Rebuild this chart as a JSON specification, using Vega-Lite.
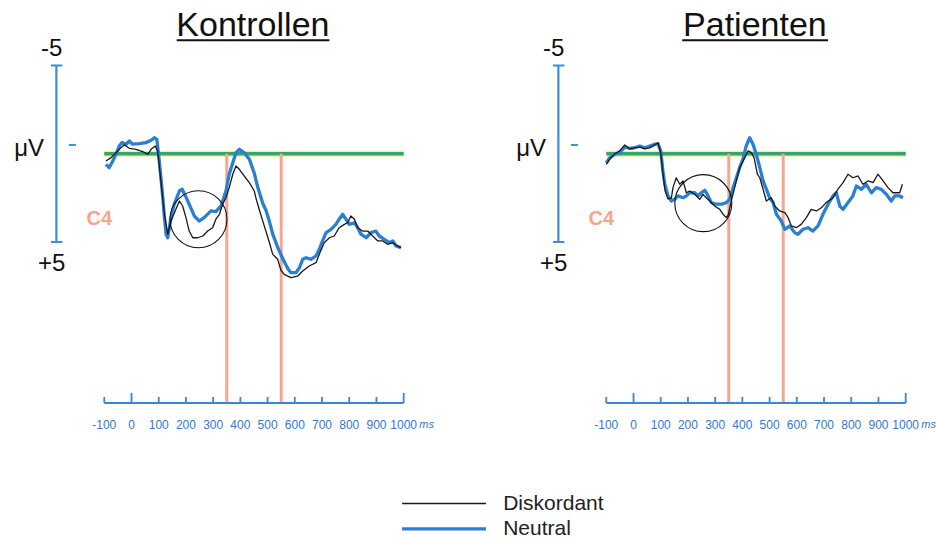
{
  "$schema": "https://vega.github.io/schema/vega-lite/v6.json",
  "padding": 0,
  "background": "white",
  "config": {"view": {"stroke": "transparent"}, "font": "Liberation Sans"},
  "data": {"values": [
    {"p":"Kontrollen","k":"erp","s":"Neutral","t":-94,"uv":0.60},{"p":"Kontrollen","k":"erp","s":"Neutral","t":-82,"uv":0.79},{"p":"Kontrollen","k":"erp","s":"Neutral","t":-69,"uv":0.41},{"p":"Kontrollen","k":"erp","s":"Neutral","t":-57,"uv":0.03},{"p":"Kontrollen","k":"erp","s":"Neutral","t":-45,"uv":-0.44},{"p":"Kontrollen","k":"erp","s":"Neutral","t":-35,"uv":-0.63},{"p":"Kontrollen","k":"erp","s":"Neutral","t":-20,"uv":-0.54},{"p":"Kontrollen","k":"erp","s":"Neutral","t":-8,"uv":-0.72},{"p":"Kontrollen","k":"erp","s":"Neutral","t":4,"uv":-0.54},{"p":"Kontrollen","k":"erp","s":"Neutral","t":29,"uv":-0.57},{"p":"Kontrollen","k":"erp","s":"Neutral","t":53,"uv":-0.63},{"p":"Kontrollen","k":"erp","s":"Neutral","t":72,"uv":-0.76},{"p":"Kontrollen","k":"erp","s":"Neutral","t":84,"uv":-0.91},{"p":"Kontrollen","k":"erp","s":"Neutral","t":93,"uv":-0.82},{"p":"Kontrollen","k":"erp","s":"Neutral","t":102,"uv":0.41},{"p":"Kontrollen","k":"erp","s":"Neutral","t":108,"uv":1.36},{"p":"Kontrollen","k":"erp","s":"Neutral","t":115,"uv":2.49},{"p":"Kontrollen","k":"erp","s":"Neutral","t":121,"uv":3.62},{"p":"Kontrollen","k":"erp","s":"Neutral","t":127,"uv":4.56},{"p":"Kontrollen","k":"erp","s":"Neutral","t":133,"uv":4.76},{"p":"Kontrollen","k":"erp","s":"Neutral","t":145,"uv":3.62},{"p":"Kontrollen","k":"erp","s":"Neutral","t":157,"uv":2.86},{"p":"Kontrollen","k":"erp","s":"Neutral","t":176,"uv":2.11},{"p":"Kontrollen","k":"erp","s":"Neutral","t":186,"uv":2.01},{"p":"Kontrollen","k":"erp","s":"Neutral","t":198,"uv":2.39},{"p":"Kontrollen","k":"erp","s":"Neutral","t":212,"uv":2.86},{"p":"Kontrollen","k":"erp","s":"Neutral","t":231,"uv":3.53},{"p":"Kontrollen","k":"erp","s":"Neutral","t":249,"uv":3.81},{"p":"Kontrollen","k":"erp","s":"Neutral","t":267,"uv":3.62},{"p":"Kontrollen","k":"erp","s":"Neutral","t":292,"uv":3.24},{"p":"Kontrollen","k":"erp","s":"Neutral","t":310,"uv":3.28},{"p":"Kontrollen","k":"erp","s":"Neutral","t":329,"uv":2.96},{"p":"Kontrollen","k":"erp","s":"Neutral","t":347,"uv":2.11},{"p":"Kontrollen","k":"erp","s":"Neutral","t":359,"uv":1.16},{"p":"Kontrollen","k":"erp","s":"Neutral","t":372,"uv":0.51},{"p":"Kontrollen","k":"erp","s":"Neutral","t":384,"uv":-0.06},{"p":"Kontrollen","k":"erp","s":"Neutral","t":396,"uv":-0.25},{"p":"Kontrollen","k":"erp","s":"Neutral","t":414,"uv":-0.06},{"p":"Kontrollen","k":"erp","s":"Neutral","t":433,"uv":0.31},{"p":"Kontrollen","k":"erp","s":"Neutral","t":451,"uv":1.1},{"p":"Kontrollen","k":"erp","s":"Neutral","t":464,"uv":1.9},{"p":"Kontrollen","k":"erp","s":"Neutral","t":482,"uv":2.8},{"p":"Kontrollen","k":"erp","s":"Neutral","t":494,"uv":3.2},{"p":"Kontrollen","k":"erp","s":"Neutral","t":506,"uv":3.8},{"p":"Kontrollen","k":"erp","s":"Neutral","t":519,"uv":4.55},{"p":"Kontrollen","k":"erp","s":"Neutral","t":537,"uv":5.3},{"p":"Kontrollen","k":"erp","s":"Neutral","t":556,"uv":5.95},{"p":"Kontrollen","k":"erp","s":"Neutral","t":574,"uv":6.5},{"p":"Kontrollen","k":"erp","s":"Neutral","t":586,"uv":6.74},{"p":"Kontrollen","k":"erp","s":"Neutral","t":604,"uv":6.74},{"p":"Kontrollen","k":"erp","s":"Neutral","t":617,"uv":6.46},{"p":"Kontrollen","k":"erp","s":"Neutral","t":629,"uv":5.98},{"p":"Kontrollen","k":"erp","s":"Neutral","t":641,"uv":5.89},{"p":"Kontrollen","k":"erp","s":"Neutral","t":659,"uv":5.98},{"p":"Kontrollen","k":"erp","s":"Neutral","t":678,"uv":5.79},{"p":"Kontrollen","k":"erp","s":"Neutral","t":690,"uv":5.41},{"p":"Kontrollen","k":"erp","s":"Neutral","t":702,"uv":4.94},{"p":"Kontrollen","k":"erp","s":"Neutral","t":715,"uv":4.47},{"p":"Kontrollen","k":"erp","s":"Neutral","t":733,"uv":4.28},{"p":"Kontrollen","k":"erp","s":"Neutral","t":751,"uv":4.00},{"p":"Kontrollen","k":"erp","s":"Neutral","t":763,"uv":3.71},{"p":"Kontrollen","k":"erp","s":"Neutral","t":776,"uv":3.43},{"p":"Kontrollen","k":"erp","s":"Neutral","t":788,"uv":3.71},{"p":"Kontrollen","k":"erp","s":"Neutral","t":800,"uv":4.00},{"p":"Kontrollen","k":"erp","s":"Neutral","t":819,"uv":3.91},{"p":"Kontrollen","k":"erp","s":"Neutral","t":831,"uv":4.19},{"p":"Kontrollen","k":"erp","s":"Neutral","t":843,"uv":4.56},{"p":"Kontrollen","k":"erp","s":"Neutral","t":862,"uv":4.76},{"p":"Kontrollen","k":"erp","s":"Neutral","t":880,"uv":4.47},{"p":"Kontrollen","k":"erp","s":"Neutral","t":898,"uv":4.38},{"p":"Kontrollen","k":"erp","s":"Neutral","t":910,"uv":4.66},{"p":"Kontrollen","k":"erp","s":"Neutral","t":929,"uv":4.85},{"p":"Kontrollen","k":"erp","s":"Neutral","t":947,"uv":5.04},{"p":"Kontrollen","k":"erp","s":"Neutral","t":960,"uv":4.94},{"p":"Kontrollen","k":"erp","s":"Neutral","t":972,"uv":5.23},{"p":"Kontrollen","k":"erp","s":"Neutral","t":990,"uv":5.32},

    {"p":"Kontrollen","k":"erp","s":"Diskordant","t":-94,"uv":0.41},{"p":"Kontrollen","k":"erp","s":"Diskordant","t":-75,"uv":0.22},{"p":"Kontrollen","k":"erp","s":"Diskordant","t":-57,"uv":-0.06},{"p":"Kontrollen","k":"erp","s":"Diskordant","t":-39,"uv":-0.34},{"p":"Kontrollen","k":"erp","s":"Diskordant","t":-26,"uv":-0.50},{"p":"Kontrollen","k":"erp","s":"Diskordant","t":-8,"uv":-0.31},{"p":"Kontrollen","k":"erp","s":"Diskordant","t":17,"uv":-0.25},{"p":"Kontrollen","k":"erp","s":"Diskordant","t":41,"uv":-0.12},{"p":"Kontrollen","k":"erp","s":"Diskordant","t":60,"uv":0.03},{"p":"Kontrollen","k":"erp","s":"Diskordant","t":72,"uv":-0.25},{"p":"Kontrollen","k":"erp","s":"Diskordant","t":87,"uv":-0.44},{"p":"Kontrollen","k":"erp","s":"Diskordant","t":96,"uv":-0.16},{"p":"Kontrollen","k":"erp","s":"Diskordant","t":102,"uv":0.69},{"p":"Kontrollen","k":"erp","s":"Diskordant","t":108,"uv":1.54},{"p":"Kontrollen","k":"erp","s":"Diskordant","t":121,"uv":3.43},{"p":"Kontrollen","k":"erp","s":"Diskordant","t":133,"uv":4.56},{"p":"Kontrollen","k":"erp","s":"Diskordant","t":145,"uv":3.81},{"p":"Kontrollen","k":"erp","s":"Diskordant","t":163,"uv":3.15},{"p":"Kontrollen","k":"erp","s":"Diskordant","t":176,"uv":2.68},{"p":"Kontrollen","k":"erp","s":"Diskordant","t":188,"uv":2.96},{"p":"Kontrollen","k":"erp","s":"Diskordant","t":200,"uv":3.62},{"p":"Kontrollen","k":"erp","s":"Diskordant","t":212,"uv":4.38},{"p":"Kontrollen","k":"erp","s":"Diskordant","t":225,"uv":4.76},{"p":"Kontrollen","k":"erp","s":"Diskordant","t":243,"uv":4.76},{"p":"Kontrollen","k":"erp","s":"Diskordant","t":262,"uv":4.66},{"p":"Kontrollen","k":"erp","s":"Diskordant","t":280,"uv":4.38},{"p":"Kontrollen","k":"erp","s":"Diskordant","t":298,"uv":4.19},{"p":"Kontrollen","k":"erp","s":"Diskordant","t":310,"uv":3.71},{"p":"Kontrollen","k":"erp","s":"Diskordant","t":323,"uv":3.43},{"p":"Kontrollen","k":"erp","s":"Diskordant","t":335,"uv":2.86},{"p":"Kontrollen","k":"erp","s":"Diskordant","t":347,"uv":2.49},{"p":"Kontrollen","k":"erp","s":"Diskordant","t":359,"uv":1.92},{"p":"Kontrollen","k":"erp","s":"Diskordant","t":372,"uv":1.16},{"p":"Kontrollen","k":"erp","s":"Diskordant","t":384,"uv":0.69},{"p":"Kontrollen","k":"erp","s":"Diskordant","t":396,"uv":0.88},{"p":"Kontrollen","k":"erp","s":"Diskordant","t":414,"uv":1.26},{"p":"Kontrollen","k":"erp","s":"Diskordant","t":433,"uv":1.64},{"p":"Kontrollen","k":"erp","s":"Diskordant","t":451,"uv":2.11},{"p":"Kontrollen","k":"erp","s":"Diskordant","t":457,"uv":2.5},{"p":"Kontrollen","k":"erp","s":"Diskordant","t":470,"uv":3.2},{"p":"Kontrollen","k":"erp","s":"Diskordant","t":488,"uv":4.1},{"p":"Kontrollen","k":"erp","s":"Diskordant","t":506,"uv":5.0},{"p":"Kontrollen","k":"erp","s":"Diskordant","t":519,"uv":5.7},{"p":"Kontrollen","k":"erp","s":"Diskordant","t":537,"uv":5.98},{"p":"Kontrollen","k":"erp","s":"Diskordant","t":549,"uv":6.6},{"p":"Kontrollen","k":"erp","s":"Diskordant","t":561,"uv":6.83},{"p":"Kontrollen","k":"erp","s":"Diskordant","t":586,"uv":7.02},{"p":"Kontrollen","k":"erp","s":"Diskordant","t":611,"uv":6.93},{"p":"Kontrollen","k":"erp","s":"Diskordant","t":629,"uv":6.64},{"p":"Kontrollen","k":"erp","s":"Diskordant","t":653,"uv":6.36},{"p":"Kontrollen","k":"erp","s":"Diskordant","t":678,"uv":6.17},{"p":"Kontrollen","k":"erp","s":"Diskordant","t":690,"uv":5.70},{"p":"Kontrollen","k":"erp","s":"Diskordant","t":708,"uv":5.04},{"p":"Kontrollen","k":"erp","s":"Diskordant","t":727,"uv":4.76},{"p":"Kontrollen","k":"erp","s":"Diskordant","t":745,"uv":4.66},{"p":"Kontrollen","k":"erp","s":"Diskordant","t":763,"uv":4.19},{"p":"Kontrollen","k":"erp","s":"Diskordant","t":782,"uv":4.00},{"p":"Kontrollen","k":"erp","s":"Diskordant","t":794,"uv":3.91},{"p":"Kontrollen","k":"erp","s":"Diskordant","t":806,"uv":3.53},{"p":"Kontrollen","k":"erp","s":"Diskordant","t":819,"uv":3.71},{"p":"Kontrollen","k":"erp","s":"Diskordant","t":831,"uv":4.19},{"p":"Kontrollen","k":"erp","s":"Diskordant","t":849,"uv":4.38},{"p":"Kontrollen","k":"erp","s":"Diskordant","t":868,"uv":4.38},{"p":"Kontrollen","k":"erp","s":"Diskordant","t":886,"uv":4.66},{"p":"Kontrollen","k":"erp","s":"Diskordant","t":905,"uv":4.94},{"p":"Kontrollen","k":"erp","s":"Diskordant","t":923,"uv":4.94},{"p":"Kontrollen","k":"erp","s":"Diskordant","t":941,"uv":5.13},{"p":"Kontrollen","k":"erp","s":"Diskordant","t":960,"uv":5.04},{"p":"Kontrollen","k":"erp","s":"Diskordant","t":978,"uv":5.23},{"p":"Kontrollen","k":"erp","s":"Diskordant","t":990,"uv":5.32},

    {"p":"Patienten","k":"erp","s":"Neutral","t":-100,"uv":0.51},{"p":"Patienten","k":"erp","s":"Neutral","t":-87,"uv":0.22},{"p":"Patienten","k":"erp","s":"Neutral","t":-69,"uv":0.03},{"p":"Patienten","k":"erp","s":"Neutral","t":-51,"uv":-0.06},{"p":"Patienten","k":"erp","s":"Neutral","t":-32,"uv":-0.38},{"p":"Patienten","k":"erp","s":"Neutral","t":-14,"uv":-0.31},{"p":"Patienten","k":"erp","s":"Neutral","t":4,"uv":-0.34},{"p":"Patienten","k":"erp","s":"Neutral","t":23,"uv":-0.44},{"p":"Patienten","k":"erp","s":"Neutral","t":41,"uv":-0.34},{"p":"Patienten","k":"erp","s":"Neutral","t":60,"uv":-0.44},{"p":"Patienten","k":"erp","s":"Neutral","t":78,"uv":-0.54},{"p":"Patienten","k":"erp","s":"Neutral","t":90,"uv":-0.57},{"p":"Patienten","k":"erp","s":"Neutral","t":100,"uv":-0.16},{"p":"Patienten","k":"erp","s":"Neutral","t":108,"uv":0.98},{"p":"Patienten","k":"erp","s":"Neutral","t":115,"uv":1.73},{"p":"Patienten","k":"erp","s":"Neutral","t":127,"uv":2.39},{"p":"Patienten","k":"erp","s":"Neutral","t":139,"uv":2.68},{"p":"Patienten","k":"erp","s":"Neutral","t":151,"uv":2.58},{"p":"Patienten","k":"erp","s":"Neutral","t":163,"uv":2.39},{"p":"Patienten","k":"erp","s":"Neutral","t":182,"uv":2.49},{"p":"Patienten","k":"erp","s":"Neutral","t":194,"uv":2.39},{"p":"Patienten","k":"erp","s":"Neutral","t":206,"uv":2.21},{"p":"Patienten","k":"erp","s":"Neutral","t":225,"uv":2.21},{"p":"Patienten","k":"erp","s":"Neutral","t":237,"uv":2.39},{"p":"Patienten","k":"erp","s":"Neutral","t":249,"uv":2.21},{"p":"Patienten","k":"erp","s":"Neutral","t":262,"uv":2.07},{"p":"Patienten","k":"erp","s":"Neutral","t":274,"uv":2.39},{"p":"Patienten","k":"erp","s":"Neutral","t":286,"uv":2.77},{"p":"Patienten","k":"erp","s":"Neutral","t":304,"uv":2.86},{"p":"Patienten","k":"erp","s":"Neutral","t":323,"uv":2.86},{"p":"Patienten","k":"erp","s":"Neutral","t":341,"uv":2.77},{"p":"Patienten","k":"erp","s":"Neutral","t":353,"uv":2.58},{"p":"Patienten","k":"erp","s":"Neutral","t":366,"uv":1.92},{"p":"Patienten","k":"erp","s":"Neutral","t":378,"uv":1.36},{"p":"Patienten","k":"erp","s":"Neutral","t":390,"uv":0.79},{"p":"Patienten","k":"erp","s":"Neutral","t":402,"uv":0.31},{"p":"Patienten","k":"erp","s":"Neutral","t":414,"uv":-0.44},{"p":"Patienten","k":"erp","s":"Neutral","t":427,"uv":-0.91},{"p":"Patienten","k":"erp","s":"Neutral","t":439,"uv":-0.54},{"p":"Patienten","k":"erp","s":"Neutral","t":451,"uv":0.03},{"p":"Patienten","k":"erp","s":"Neutral","t":464,"uv":0.79},{"p":"Patienten","k":"erp","s":"Neutral","t":476,"uv":1.54},{"p":"Patienten","k":"erp","s":"Neutral","t":488,"uv":2.01},{"p":"Patienten","k":"erp","s":"Neutral","t":500,"uv":2.49},{"p":"Patienten","k":"erp","s":"Neutral","t":513,"uv":2.77},{"p":"Patienten","k":"erp","s":"Neutral","t":525,"uv":3.43},{"p":"Patienten","k":"erp","s":"Neutral","t":543,"uv":3.81},{"p":"Patienten","k":"erp","s":"Neutral","t":556,"uv":4.28},{"p":"Patienten","k":"erp","s":"Neutral","t":574,"uv":4.09},{"p":"Patienten","k":"erp","s":"Neutral","t":592,"uv":4.47},{"p":"Patienten","k":"erp","s":"Neutral","t":604,"uv":4.56},{"p":"Patienten","k":"erp","s":"Neutral","t":623,"uv":4.28},{"p":"Patienten","k":"erp","s":"Neutral","t":641,"uv":4.19},{"p":"Patienten","k":"erp","s":"Neutral","t":659,"uv":4.38},{"p":"Patienten","k":"erp","s":"Neutral","t":678,"uv":4.09},{"p":"Patienten","k":"erp","s":"Neutral","t":696,"uv":3.43},{"p":"Patienten","k":"erp","s":"Neutral","t":715,"uv":2.86},{"p":"Patienten","k":"erp","s":"Neutral","t":733,"uv":2.39},{"p":"Patienten","k":"erp","s":"Neutral","t":745,"uv":2.21},{"p":"Patienten","k":"erp","s":"Neutral","t":758,"uv":2.96},{"p":"Patienten","k":"erp","s":"Neutral","t":770,"uv":3.15},{"p":"Patienten","k":"erp","s":"Neutral","t":788,"uv":2.77},{"p":"Patienten","k":"erp","s":"Neutral","t":806,"uv":2.39},{"p":"Patienten","k":"erp","s":"Neutral","t":819,"uv":1.83},{"p":"Patienten","k":"erp","s":"Neutral","t":837,"uv":2.01},{"p":"Patienten","k":"erp","s":"Neutral","t":855,"uv":1.73},{"p":"Patienten","k":"erp","s":"Neutral","t":874,"uv":2.21},{"p":"Patienten","k":"erp","s":"Neutral","t":892,"uv":1.92},{"p":"Patienten","k":"erp","s":"Neutral","t":910,"uv":2.01},{"p":"Patienten","k":"erp","s":"Neutral","t":929,"uv":2.30},{"p":"Patienten","k":"erp","s":"Neutral","t":947,"uv":2.68},{"p":"Patienten","k":"erp","s":"Neutral","t":960,"uv":2.39},{"p":"Patienten","k":"erp","s":"Neutral","t":978,"uv":2.39},{"p":"Patienten","k":"erp","s":"Neutral","t":990,"uv":2.49},

    {"p":"Patienten","k":"erp","s":"Diskordant","t":-100,"uv":0.60},{"p":"Patienten","k":"erp","s":"Diskordant","t":-87,"uv":0.30},{"p":"Patienten","k":"erp","s":"Diskordant","t":-69,"uv":0.01},{"p":"Patienten","k":"erp","s":"Diskordant","t":-51,"uv":-0.16},{"p":"Patienten","k":"erp","s":"Diskordant","t":-32,"uv":-0.50},{"p":"Patienten","k":"erp","s":"Diskordant","t":-14,"uv":-0.27},{"p":"Patienten","k":"erp","s":"Diskordant","t":4,"uv":-0.33},{"p":"Patienten","k":"erp","s":"Diskordant","t":23,"uv":-0.38},{"p":"Patienten","k":"erp","s":"Diskordant","t":41,"uv":-0.27},{"p":"Patienten","k":"erp","s":"Diskordant","t":60,"uv":-0.33},{"p":"Patienten","k":"erp","s":"Diskordant","t":78,"uv":-0.50},{"p":"Patienten","k":"erp","s":"Diskordant","t":90,"uv":-0.61},{"p":"Patienten","k":"erp","s":"Diskordant","t":100,"uv":-0.04},{"p":"Patienten","k":"erp","s":"Diskordant","t":108,"uv":1.09},{"p":"Patienten","k":"erp","s":"Diskordant","t":116,"uv":2.11},{"p":"Patienten","k":"erp","s":"Diskordant","t":127,"uv":2.56},{"p":"Patienten","k":"erp","s":"Diskordant","t":139,"uv":2.51},{"p":"Patienten","k":"erp","s":"Diskordant","t":145,"uv":1.92},{"p":"Patienten","k":"erp","s":"Diskordant","t":157,"uv":1.36},{"p":"Patienten","k":"erp","s":"Diskordant","t":170,"uv":1.73},{"p":"Patienten","k":"erp","s":"Diskordant","t":182,"uv":1.54},{"p":"Patienten","k":"erp","s":"Diskordant","t":194,"uv":2.21},{"p":"Patienten","k":"erp","s":"Diskordant","t":206,"uv":2.11},{"p":"Patienten","k":"erp","s":"Diskordant","t":225,"uv":2.30},{"p":"Patienten","k":"erp","s":"Diskordant","t":243,"uv":2.58},{"p":"Patienten","k":"erp","s":"Diskordant","t":255,"uv":2.30},{"p":"Patienten","k":"erp","s":"Diskordant","t":267,"uv":2.49},{"p":"Patienten","k":"erp","s":"Diskordant","t":280,"uv":2.68},{"p":"Patienten","k":"erp","s":"Diskordant","t":298,"uv":2.96},{"p":"Patienten","k":"erp","s":"Diskordant","t":317,"uv":3.15},{"p":"Patienten","k":"erp","s":"Diskordant","t":329,"uv":3.43},{"p":"Patienten","k":"erp","s":"Diskordant","t":341,"uv":3.62},{"p":"Patienten","k":"erp","s":"Diskordant","t":348,"uv":3.47},{"p":"Patienten","k":"erp","s":"Diskordant","t":359,"uv":2.68},{"p":"Patienten","k":"erp","s":"Diskordant","t":378,"uv":1.54},{"p":"Patienten","k":"erp","s":"Diskordant","t":390,"uv":0.79},{"p":"Patienten","k":"erp","s":"Diskordant","t":409,"uv":0.22},{"p":"Patienten","k":"erp","s":"Diskordant","t":421,"uv":-0.16},{"p":"Patienten","k":"erp","s":"Diskordant","t":433,"uv":-0.06},{"p":"Patienten","k":"erp","s":"Diskordant","t":443,"uv":0.22},{"p":"Patienten","k":"erp","s":"Diskordant","t":455,"uv":1.16},{"p":"Patienten","k":"erp","s":"Diskordant","t":464,"uv":1.36},{"p":"Patienten","k":"erp","s":"Diskordant","t":476,"uv":2.01},{"p":"Patienten","k":"erp","s":"Diskordant","t":488,"uv":2.68},{"p":"Patienten","k":"erp","s":"Diskordant","t":506,"uv":2.49},{"p":"Patienten","k":"erp","s":"Diskordant","t":519,"uv":2.96},{"p":"Patienten","k":"erp","s":"Diskordant","t":537,"uv":3.24},{"p":"Patienten","k":"erp","s":"Diskordant","t":556,"uv":3.34},{"p":"Patienten","k":"erp","s":"Diskordant","t":568,"uv":3.62},{"p":"Patienten","k":"erp","s":"Diskordant","t":580,"uv":4.09},{"p":"Patienten","k":"erp","s":"Diskordant","t":598,"uv":4.19},{"p":"Patienten","k":"erp","s":"Diskordant","t":616,"uv":4.00},{"p":"Patienten","k":"erp","s":"Diskordant","t":635,"uv":3.62},{"p":"Patienten","k":"erp","s":"Diskordant","t":653,"uv":3.15},{"p":"Patienten","k":"erp","s":"Diskordant","t":672,"uv":3.24},{"p":"Patienten","k":"erp","s":"Diskordant","t":690,"uv":3.06},{"p":"Patienten","k":"erp","s":"Diskordant","t":708,"uv":2.77},{"p":"Patienten","k":"erp","s":"Diskordant","t":733,"uv":2.49},{"p":"Patienten","k":"erp","s":"Diskordant","t":751,"uv":2.01},{"p":"Patienten","k":"erp","s":"Diskordant","t":770,"uv":1.64},{"p":"Patienten","k":"erp","s":"Diskordant","t":788,"uv":1.16},{"p":"Patienten","k":"erp","s":"Diskordant","t":806,"uv":1.36},{"p":"Patienten","k":"erp","s":"Diskordant","t":825,"uv":1.26},{"p":"Patienten","k":"erp","s":"Diskordant","t":843,"uv":1.73},{"p":"Patienten","k":"erp","s":"Diskordant","t":861,"uv":1.54},{"p":"Patienten","k":"erp","s":"Diskordant","t":880,"uv":1.64},{"p":"Patienten","k":"erp","s":"Diskordant","t":898,"uv":1.16},{"p":"Patienten","k":"erp","s":"Diskordant","t":917,"uv":1.54},{"p":"Patienten","k":"erp","s":"Diskordant","t":935,"uv":1.92},{"p":"Patienten","k":"erp","s":"Diskordant","t":953,"uv":2.21},{"p":"Patienten","k":"erp","s":"Diskordant","t":978,"uv":2.21},{"p":"Patienten","k":"erp","s":"Diskordant","t":988,"uv":1.73},

    {"p":"Kontrollen","k":"zero","t":-100,"t2":1000,"uv":0},
    {"p":"Patienten","k":"zero","t":-100,"t2":1000,"uv":0},
    {"p":"Kontrollen","k":"vline","t":350,"uv":0,"uv2":14.122},{"p":"Kontrollen","k":"vline","t":550,"uv":0,"uv2":14.122},
    {"p":"Patienten","k":"vline","t":350,"uv":0,"uv2":14.122},{"p":"Patienten","k":"vline","t":550,"uv":0,"uv2":14.122},
    {"p":"Kontrollen","k":"base","t":-100,"t2":1000,"uv":14.122},
    {"p":"Patienten","k":"base","t":-100,"t2":1000,"uv":14.122},
    {"p":"Kontrollen","k":"tick","t":-100,"uv":14.122,"uv2":13.78},{"p":"Kontrollen","k":"tick","t":0,"uv":14.122,"uv2":13.55},{"p":"Kontrollen","k":"tick","t":100,"uv":14.122,"uv2":13.78},{"p":"Kontrollen","k":"tick","t":200,"uv":14.122,"uv2":13.78},{"p":"Kontrollen","k":"tick","t":300,"uv":14.122,"uv2":13.78},{"p":"Kontrollen","k":"tick","t":400,"uv":14.122,"uv2":13.78},{"p":"Kontrollen","k":"tick","t":500,"uv":14.122,"uv2":13.78},{"p":"Kontrollen","k":"tick","t":600,"uv":14.122,"uv2":13.78},{"p":"Kontrollen","k":"tick","t":700,"uv":14.122,"uv2":13.78},{"p":"Kontrollen","k":"tick","t":800,"uv":14.122,"uv2":13.78},{"p":"Kontrollen","k":"tick","t":900,"uv":14.122,"uv2":13.78},{"p":"Kontrollen","k":"tick","t":1000,"uv":14.122,"uv2":13.55},
    {"p":"Patienten","k":"tick","t":-100,"uv":14.122,"uv2":13.78},{"p":"Patienten","k":"tick","t":0,"uv":14.122,"uv2":13.55},{"p":"Patienten","k":"tick","t":100,"uv":14.122,"uv2":13.78},{"p":"Patienten","k":"tick","t":200,"uv":14.122,"uv2":13.78},{"p":"Patienten","k":"tick","t":300,"uv":14.122,"uv2":13.78},{"p":"Patienten","k":"tick","t":400,"uv":14.122,"uv2":13.78},{"p":"Patienten","k":"tick","t":500,"uv":14.122,"uv2":13.78},{"p":"Patienten","k":"tick","t":600,"uv":14.122,"uv2":13.78},{"p":"Patienten","k":"tick","t":700,"uv":14.122,"uv2":13.78},{"p":"Patienten","k":"tick","t":800,"uv":14.122,"uv2":13.78},{"p":"Patienten","k":"tick","t":900,"uv":14.122,"uv2":13.78},{"p":"Patienten","k":"tick","t":1000,"uv":14.122,"uv2":13.55},
    {"p":"Kontrollen","k":"sbar","t":-276,"uv":-5,"uv2":5},
    {"p":"Patienten","k":"sbar","t":-276,"uv":-5,"uv2":5},
    {"p":"Kontrollen","k":"scap","t":-296,"t2":-254,"uv":-5},{"p":"Kontrollen","k":"scap","t":-296,"t2":-254,"uv":5},{"p":"Kontrollen","k":"scap","t":-230,"t2":-204,"uv":-0.5},
    {"p":"Patienten","k":"scap","t":-296,"t2":-254,"uv":-5},{"p":"Patienten","k":"scap","t":-296,"t2":-254,"uv":5},{"p":"Patienten","k":"scap","t":-230,"t2":-204,"uv":-0.5},
    {"p":"Kontrollen","k":"lbl","t":-293,"uv":-5.54,"txt":"-5"},{"p":"Kontrollen","k":"lbl","t":-293,"uv":6.64,"txt":"+5"},{"p":"Kontrollen","k":"lbl","t":-376,"uv":0.13,"txt":"μV"},
    {"p":"Patienten","k":"lbl","t":-293,"uv":-5.54,"txt":"-5"},{"p":"Patienten","k":"lbl","t":-293,"uv":6.64,"txt":"+5"},{"p":"Patienten","k":"lbl","t":-376,"uv":0.13,"txt":"μV"},
    {"p":"Kontrollen","k":"chan","t":-118,"uv":3.67,"txt":"C4"},
    {"p":"Patienten","k":"chan","t":-118,"uv":3.67,"txt":"C4"},
    {"p":"Kontrollen","k":"unit","t":1084,"uv":15.39,"txt":"ms"},
    {"p":"Patienten","k":"unit","t":1084,"uv":15.39,"txt":"ms"},
    {"p":"Kontrollen","k":"title","t":446,"uv":-6.67,"txt":"Kontrollen"},
    {"p":"Patienten","k":"title","t":446,"uv":-6.67,"txt":"Patienten"},
    {"p":"Kontrollen","k":"uline","t":166,"t2":727,"uv":-6.43},
    {"p":"Patienten","k":"uline","t":179,"t2":715,"uv":-6.43},
    {"p":"Kontrollen","k":"circ","t":246,"uv":3.71},
    {"p":"Patienten","k":"circ","t":256.5,"uv":2.80}
  ]},
  "facet": {"column": {"field": "p", "type": "nominal", "header": {"labels": false, "title": null}}},
  "spacing": 64,
  "spec": {
    "width": 436,
    "height": 402,
    "layer": [
      {"transform": [{"filter": "datum.k == 'zero'"}], "mark": {"type": "rule", "color": "#f2ec9c", "strokeWidth": 6},
       "encoding": {"x": {"field": "t", "type": "quantitative", "scale": {"domain": [-479.5, 1122.4], "nice": false, "zero": false}, "axis": null}, "x2": {"field": "t2"},
                    "y": {"field": "uv", "type": "quantitative", "scale": {"domain": [-8.654, 14.122], "reverse": true, "nice": false, "zero": false}, "axis": null}}},
      {"transform": [{"filter": "datum.k == 'zero'"}], "mark": {"type": "rule", "color": "#34a56c", "strokeWidth": 3.5},
       "encoding": {"x": {"field": "t", "type": "quantitative", "axis": null}, "x2": {"field": "t2"}, "y": {"field": "uv", "type": "quantitative", "axis": null}}},
      {"transform": [{"filter": "datum.k == 'vline'"}], "mark": {"type": "rule", "color": "#f5a68d", "strokeWidth": 3},
       "encoding": {"x": {"field": "t", "type": "quantitative", "axis": null}, "y": {"field": "uv", "type": "quantitative", "axis": null}, "y2": {"field": "uv2"}}},
      {"transform": [{"filter": "datum.k == 'base'"}], "mark": {"type": "rule", "color": "#3a86d6", "strokeWidth": 2},
       "encoding": {"x": {"field": "t", "type": "quantitative", "axis": null}, "x2": {"field": "t2"}, "y": {"field": "uv", "type": "quantitative", "axis": null}}},
      {"transform": [{"filter": "datum.k == 'tick'"}], "mark": {"type": "rule", "color": "#3a86d6", "strokeWidth": 1.8},
       "encoding": {"x": {"field": "t", "type": "quantitative", "axis": null}, "y": {"field": "uv", "type": "quantitative", "axis": null}, "y2": {"field": "uv2"}}},
      {"transform": [{"filter": "datum.k == 'tick'"}], "mark": {"type": "text", "font": "Liberation Sans", "fontSize": 12, "align": "center", "baseline": "middle", "color": "#3478cc", "dy": 22.3},
       "encoding": {"x": {"field": "t", "type": "quantitative", "axis": null}, "y": {"field": "uv", "type": "quantitative", "axis": null}, "text": {"field": "t", "type": "nominal"}}},
      {"transform": [{"filter": "datum.k == 'erp' && datum.s == 'Neutral'"}], "mark": {"type": "line", "strokeJoin": "round"},
       "encoding": {
         "x": {"field": "t", "type": "quantitative", "axis": null},
         "y": {"field": "uv", "type": "quantitative", "axis": null},
         "color": {"field": "s", "type": "nominal", "scale": {"domain": ["Diskordant", "Neutral"], "range": ["#1a1a1a", "#2a7fd3"]},
                   "legend": {"orient": "none", "legendX": 390.6, "legendY": 492, "title": null, "padding": 0, "symbolType": "M0,0H10", "symbolSize": 282, "symbolFillColor": "transparent", "labelFont": "Liberation Sans", "labelFontSize": 21, "labelColor": "#222222", "labelOffset": 90.6, "rowPadding": 3.4}},
         "strokeWidth": {"field": "s", "type": "nominal", "scale": {"domain": ["Diskordant", "Neutral"], "range": [1.3, 3.3]}, "legend": null}
       }},
      {"transform": [{"filter": "datum.k == 'erp' && datum.s == 'Diskordant'"}], "mark": {"type": "line", "strokeJoin": "round"},
       "encoding": {
         "x": {"field": "t", "type": "quantitative", "axis": null},
         "y": {"field": "uv", "type": "quantitative", "axis": null},
         "color": {"field": "s", "type": "nominal", "scale": {"domain": ["Diskordant", "Neutral"], "range": ["#1a1a1a", "#2a7fd3"]}},
         "strokeWidth": {"field": "s", "type": "nominal", "scale": {"domain": ["Diskordant", "Neutral"], "range": [1.3, 3.3]}, "legend": null}
       }},
      {"transform": [{"filter": "datum.k == 'circ'"}], "mark": {"type": "point", "shape": "circle", "filled": false, "size": 3249, "stroke": "#111111", "strokeWidth": 1.1, "opacity": 1},
       "encoding": {"x": {"field": "t", "type": "quantitative", "axis": null}, "y": {"field": "uv", "type": "quantitative", "axis": null}}},
      {"transform": [{"filter": "datum.k == 'sbar'"}], "mark": {"type": "rule", "color": "#3d8ddc", "strokeWidth": 2.2},
       "encoding": {"x": {"field": "t", "type": "quantitative", "axis": null}, "y": {"field": "uv", "type": "quantitative", "axis": null}, "y2": {"field": "uv2"}}},
      {"transform": [{"filter": "datum.k == 'scap'"}], "mark": {"type": "rule", "color": "#3d8ddc", "strokeWidth": 2},
       "encoding": {"x": {"field": "t", "type": "quantitative", "axis": null}, "x2": {"field": "t2"}, "y": {"field": "uv", "type": "quantitative", "axis": null}}},
      {"transform": [{"filter": "datum.k == 'lbl'"}], "mark": {"type": "text", "font": "Liberation Sans", "fontSize": 24, "align": "center", "baseline": "alphabetic", "color": "#111111"},
       "encoding": {"x": {"field": "t", "type": "quantitative", "axis": null}, "y": {"field": "uv", "type": "quantitative", "axis": null}, "text": {"field": "txt"}}},
      {"transform": [{"filter": "datum.k == 'chan'"}], "mark": {"type": "text", "font": "Liberation Sans", "fontSize": 20, "fontWeight": "bold", "align": "center", "baseline": "middle", "color": "#f7a48c"},
       "encoding": {"x": {"field": "t", "type": "quantitative", "axis": null}, "y": {"field": "uv", "type": "quantitative", "axis": null}, "text": {"field": "txt"}}},
      {"transform": [{"filter": "datum.k == 'unit'"}], "mark": {"type": "text", "font": "Liberation Sans", "fontSize": 11, "fontStyle": "italic", "align": "center", "baseline": "middle", "color": "#3478cc"},
       "encoding": {"x": {"field": "t", "type": "quantitative", "axis": null}, "y": {"field": "uv", "type": "quantitative", "axis": null}, "text": {"field": "txt"}}},
      {"transform": [{"filter": "datum.k == 'title'"}], "mark": {"type": "text", "font": "Liberation Sans", "fontSize": 34, "align": "center", "baseline": "alphabetic", "color": "#111111"},
       "encoding": {"x": {"field": "t", "type": "quantitative", "axis": null}, "y": {"field": "uv", "type": "quantitative", "axis": null}, "text": {"field": "txt"}}},
      {"transform": [{"filter": "datum.k == 'uline'"}], "mark": {"type": "rule", "color": "#111111", "strokeWidth": 2},
       "encoding": {"x": {"field": "t", "type": "quantitative", "axis": null}, "x2": {"field": "t2"}, "y": {"field": "uv", "type": "quantitative", "axis": null}}}
    ]
  }
}
